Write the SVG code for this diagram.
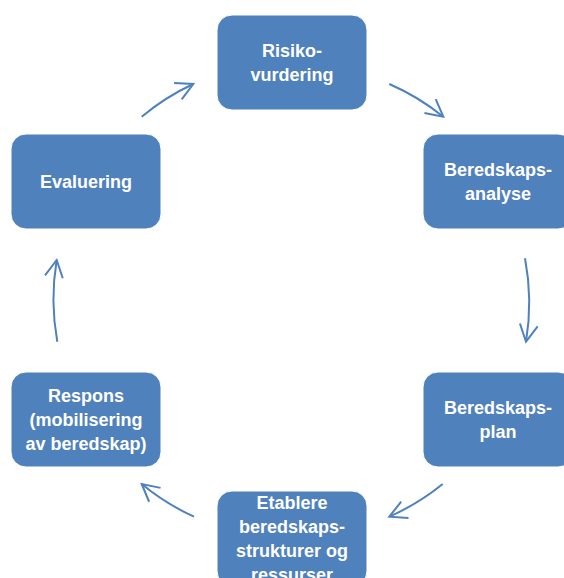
<svg xmlns="http://www.w3.org/2000/svg" width="564" height="578" viewBox="0 0 564 578">
<style>
.box{fill:#4F81BD;stroke:#ffffff;stroke-width:1}
.lbl{font-family:"Liberation Sans",Arial,sans-serif;font-weight:bold;font-size:18px;fill:#ffffff;text-anchor:middle}
.arc{fill:none;stroke:#4F81BD;stroke-width:2;marker-end:url(#ah)}
</style>
<defs>
<marker id="ah" markerUnits="userSpaceOnUse" markerWidth="40" markerHeight="40" viewBox="-20 -20 40 40" refX="0" refY="0" orient="auto">
<path d="M-17,-9 L0,0 L-17,9" fill="none" stroke="#4F81BD" stroke-width="2"/>
</marker>
</defs>
<rect width="564" height="578" fill="#ffffff"/>
<g id="connectors">
<path class="arc" d="M141.7,116.7 A237,237 0 0 1 193.3,84"/>
<path class="arc" d="M389.3,84 A237,237 0 0 1 443.3,116.7"/>
<path class="arc" d="M525,258.3 A237,237 0 0 1 526,341.7"/>
<path class="arc" d="M442.7,484 A237,237 0 0 1 389.3,516.7"/>
<path class="arc" d="M194,516.7 A237,237 0 0 1 141.7,484"/>
<path class="arc" d="M57.3,341.7 A237,237 0 0 1 56.7,260"/>
</g>
<g id="risikovurdering">
<rect class="box" x="217" y="15" width="150" height="95" rx="15"/>
<text class="lbl"><tspan x="292" y="56.5">Risiko-</tspan><tspan x="292" y="80.5">vurdering</tspan></text>
</g>
<g id="beredskapsanalyse">
<rect class="box" x="423" y="134" width="150" height="95" rx="15"/>
<text class="lbl"><tspan x="498" y="175.5">Beredskaps-</tspan><tspan x="498" y="199.5">analyse</tspan></text>
</g>
<g id="beredskapsplan">
<rect class="box" x="423" y="372" width="150" height="95" rx="15"/>
<text class="lbl"><tspan x="498" y="413.5">Beredskaps-</tspan><tspan x="498" y="437.5">plan</tspan></text>
</g>
<g id="etablere">
<rect class="box" x="217" y="491" width="150" height="95" rx="15"/>
<text class="lbl"><tspan x="292" y="508.5">Etablere</tspan><tspan x="292" y="532.5">beredskaps-</tspan><tspan x="292" y="556.5">strukturer og</tspan><tspan x="292" y="580.5">ressurser</tspan></text>
</g>
<g id="respons">
<rect class="box" x="11" y="372" width="150" height="95" rx="15"/>
<text class="lbl"><tspan x="86" y="401.5">Respons</tspan><tspan x="86" y="425.5">(mobilisering</tspan><tspan x="86" y="449.5">av beredskap)</tspan></text>
</g>
<g id="evaluering">
<rect class="box" x="11" y="134" width="150" height="95" rx="15"/>
<text class="lbl"><tspan x="86" y="187.5">Evaluering</tspan></text>
</g>
</svg>
